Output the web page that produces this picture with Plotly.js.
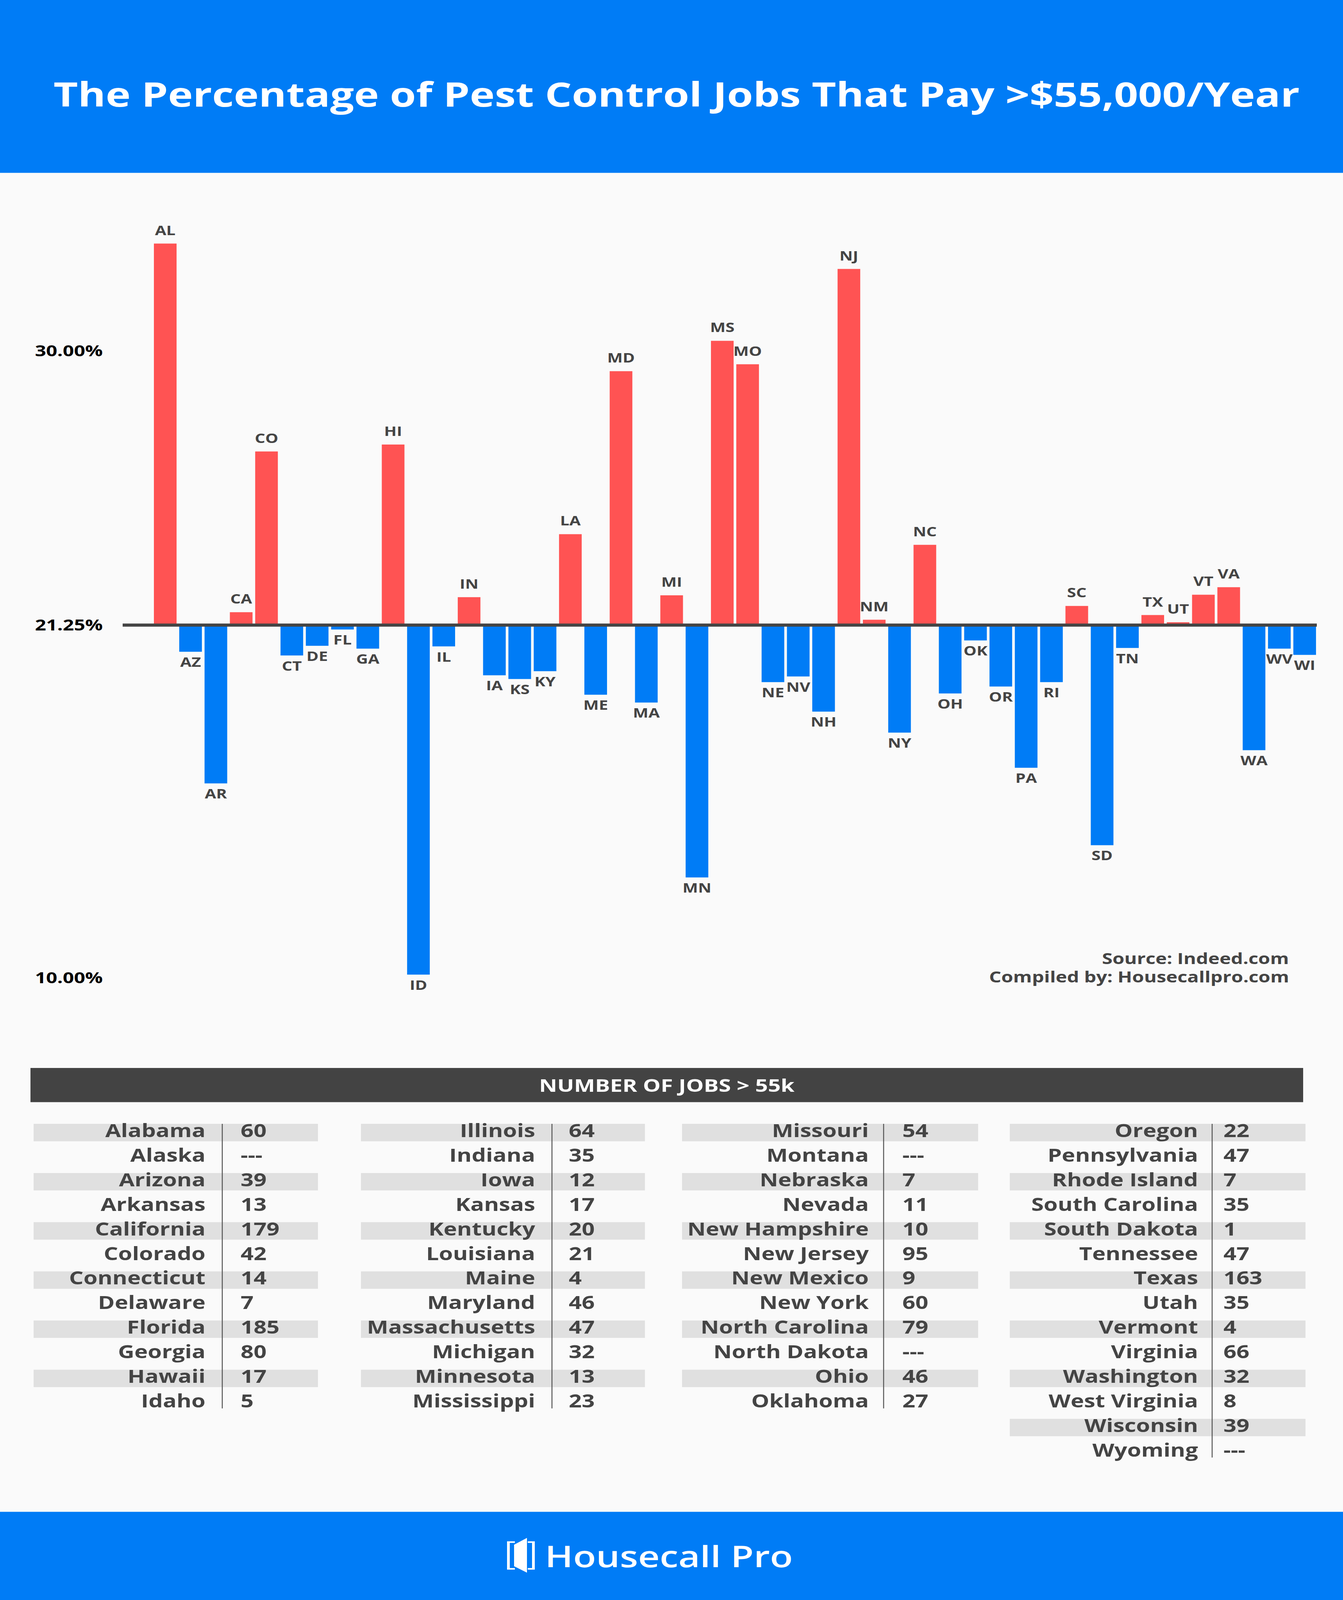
<!DOCTYPE html>
<html>
<head>
<meta charset="utf-8">
<script src="https://cdn.plot.ly/plotly-3.0.1.min.js"></script>
<style>
  html, body { margin: 0; padding: 0; background: #FAFAFA; overflow: hidden; }
  #chart { width: 3438px; height: 5155px; transform-origin: 0 0; }
</style>
</head>
<body>
<div id="chart"></div>
<script>
// ---------------- DATA ----------------
const states = ['AL','AZ','AR','CA','CO','CT','DE','FL','GA','HI','ID','IL','IN','IA','KS','KY','LA','ME','MD','MA','MI','MN','MS','MO','NE','NV','NH','NJ','NM','NY','NC','OH','OK','OR','PA','RI','SC','SD','TN','TX','UT','VT','VA','WA','WV','WI'];
const pct = [33.42,20.40,16.20,21.66,26.79,20.28,20.59,21.11,20.50,27.01,10.10,20.57,22.14,19.65,19.53,19.78,24.15,19.03,29.35,18.78,22.20,13.20,30.32,29.57,19.43,19.61,18.49,32.61,21.42,17.82,23.81,19.07,20.76,19.29,16.70,19.43,21.86,14.23,20.52,21.57,21.34,22.22,22.46,17.26,20.50,20.30];
const baseline = 21.25;
const yTickVals = [10, 21.25, 30];
const yTickText = ['10.00%', '21.25%', '30.00%'];

const tableStates = ['Alabama','Alaska','Arizona','Arkansas','California','Colorado','Connecticut','Delaware','Florida','Georgia','Hawaii','Idaho',
  'Illinois','Indiana','Iowa','Kansas','Kentucky','Louisiana','Maine','Maryland','Massachusetts','Michigan','Minnesota','Mississippi',
  'Missouri','Montana','Nebraska','Nevada','New Hampshire','New Jersey','New Mexico','New York','North Carolina','North Dakota','Ohio','Oklahoma',
  'Oregon','Pennsylvania','Rhode Island','South Carolina','South Dakota','Tennessee','Texas','Utah','Vermont','Virginia','Washington','West Virginia','Wisconsin','Wyoming'];
const tableJobs = ['60','---','39','13','179','42','14','7','185','80','17','5',
  '64','35','12','17','20','21','4','46','47','32','13','23',
  '54','---','7','11','10','95','9','60','79','---','46','27',
  '22','47','7','35','1','47','163','35','4','66','32','8','39','---'];
const tableColumnSizes = [12, 12, 12, 14];

const titleText = 'The Percentage of Pest Control Jobs That Pay >$55,000/Year';
const tableHeader = 'NUMBER OF JOBS &gt; 55k';
const sourceLines = ['Source: Indeed.com', 'Compiled by: Housecallpro.com'];
const brandText = 'Housecall Pro';

// ---------------- STYLE / LAYOUT CONSTANTS ----------------
const W = 3438, H = 5155;
const BLUE = '#007CF6', RED = '#FF5353', DARK = '#444444', BG = '#FAFAFA', STRIPE = '#E0E0E0';
const px = p => p / W;
const py = p => 1 - p / H;

const plotTop = 600, plotBottom = 3350, basePix = 2014, pxPerPct = 101;
const plotLeft = 314, plotRight = 3371, firstBarCenter = 423, barPitch = 64.82;

const rowPitch = 79.2, firstRowCenter = 3649, stripeHalf = 0.354;
const colNameRight = [526, 1370, 2224, 3067];
const colNumLeft = [616, 1456, 2310, 3132];
const colDivider = [569, 1413, 2262, 3103];
const colStripe = [[86, 814], [924, 1651], [1746, 2504], [2585, 3342]];

// fit the full-height design into the actual window (the window may be shorter than 5155)
const fitY = Math.min(1, (window.innerHeight || H) / H);
if (fitY < 1) document.getElementById('chart').style.transform = 'scale(1,' + fitY + ')';

// ---------------- TRACES ----------------
const bars = {
  type: 'bar', x: states, y: pct.map(v => v - baseline), base: baseline, width: 0.895,
  marker: { color: pct.map(v => v >= baseline ? RED : BLUE), line: { width: 0 } },
  hoverinfo: 'skip', xaxis: 'x', yaxis: 'y'
};
const barLabels = {
  type: 'scatter', mode: 'markers+text', x: states, y: pct, text: states,
  textposition: pct.map(v => v >= baseline ? 'top center' : 'bottom center'),
  textfont: { family: 'Open Sans', size: 42, color: DARK, weight: 700 },
  marker: { size: 26, color: 'rgba(0,0,0,0)' },
  cliponaxis: false, hoverinfo: 'skip', xaxis: 'x', yaxis: 'y'
};

const colIdx = [], rowIdx = [];
{
  let c = 0, r = 0;
  for (let i = 0; i < tableStates.length; i++) {
    colIdx.push(c); rowIdx.push(r);
    r++;
    if (r >= tableColumnSizes[c]) { c++; r = 0; }
  }
}
const tableFont = { family: 'Open Sans', size: 58, color: DARK, weight: 700 };
const tableNames = {
  type: 'scatter', mode: 'text', x: colIdx.map(c => colNameRight[c]), y: rowIdx,
  text: tableStates, textposition: 'middle left', textfont: tableFont, cliponaxis: false, hoverinfo: 'skip',
  xaxis: 'x2', yaxis: 'y2'
};
const tableNums = {
  type: 'scatter', mode: 'text', x: colIdx.map(c => colNumLeft[c]), y: rowIdx,
  text: tableJobs, textposition: 'middle right', textfont: tableFont, cliponaxis: false, hoverinfo: 'skip',
  xaxis: 'x2', yaxis: 'y2'
};

// ---------------- SHAPES ----------------
const shapes = [
  { type: 'rect', xref: 'paper', yref: 'paper', x0: 0, x1: 1, y0: py(557), y1: 1, fillcolor: BLUE, line: { width: 0 }, layer: 'below' },
  { type: 'rect', xref: 'paper', yref: 'paper', x0: 0, x1: 1, y0: 0, y1: py(4871), fillcolor: BLUE, line: { width: 0 }, layer: 'below' },
  { type: 'line', xref: 'x domain', yref: 'y', x0: 0, x1: 1, y0: baseline, y1: baseline, line: { color: DARK, width: 10 }, layer: 'above' },
  { type: 'rect', xref: 'paper', yref: 'paper', x0: px(78), x1: px(3336), y0: py(3551), y1: py(3441), fillcolor: '#434343', line: { width: 0 }, layer: 'below' }
];
for (let i = 0; i < tableStates.length; i++) {
  if (rowIdx[i] % 2 === 0) {
    const c = colIdx[i];
    shapes.push({ type: 'rect', xref: 'x2', yref: 'y2', x0: colStripe[c][0], x1: colStripe[c][1],
      y0: rowIdx[i] - stripeHalf, y1: rowIdx[i] + stripeHalf, fillcolor: STRIPE, line: { width: 0 }, layer: 'below' });
  }
}
for (let c = 0; c < 4; c++) {
  shapes.push({ type: 'line', xref: 'x2', yref: 'y2', x0: colDivider[c], x1: colDivider[c],
    y0: -stripeHalf, y1: tableColumnSizes[c] - 1 + 0.22, line: { color: '#555', width: 2.5 }, layer: 'above' });
}
function pathOf(pts) { return 'M ' + pts.map(p => px(p[0]) + ' ' + py(p[1])).join(' L ') + ' Z'; }
const logoPaths = [
  [[1298, 4966], [1318, 4966], [1318, 4971], [1305, 4971], [1305, 5052], [1318, 5052], [1318, 5057], [1298, 5057]],
  [[1316, 4977], [1349, 4955], [1349, 5067], [1316, 5046]],
  [[1351, 4966], [1369, 4966], [1369, 5057], [1351, 5057], [1351, 5052], [1362, 5052], [1362, 4971], [1351, 4971]]
];
logoPaths.forEach(p => shapes.push({ type: 'path', xref: 'paper', yref: 'paper', path: pathOf(p), fillcolor: '#FFFFFF', line: { width: 0 }, layer: 'above' }));

// ---------------- ANNOTATIONS ----------------
const annotations = [
  { xref: 'paper', yref: 'paper', x: px(1707), y: py(3496), xanchor: 'center', yanchor: 'middle', showarrow: false,
    text: tableHeader, font: { family: 'Open Sans', size: 57, color: '#FFFFFF', weight: 700 } },
  { xref: 'paper', yref: 'paper', x: px(3302), y: py(3087), xanchor: 'right', yanchor: 'middle', showarrow: false,
    text: sourceLines[0], font: { family: 'Open Sans', size: 49, color: DARK, weight: 700 } },
  { xref: 'paper', yref: 'paper', x: px(3302), y: py(3146), xanchor: 'right', yanchor: 'middle', showarrow: false,
    text: sourceLines[1], font: { family: 'Open Sans', size: 49, color: DARK, weight: 700 } },
  { xref: 'paper', yref: 'paper', x: px(1712), y: py(5011), xanchor: 'center', yanchor: 'middle', showarrow: false,
    text: brandText, font: { family: 'Open Sans', size: 96, color: '#FFFFFF', weight: 600 } }
];

const layout = {
  width: W, height: H,
  margin: { l: 0, r: 0, t: 0, b: 0, pad: 0 },
  paper_bgcolor: BG, plot_bgcolor: 'rgba(0,0,0,0)', showlegend: false,
  title: { text: titleText, x: px(1732), xanchor: 'center', xref: 'paper', y: py(306), yanchor: 'middle', yref: 'container',
    font: { family: 'Open Sans', size: 108, color: '#FFFFFF', weight: 700 } },
  xaxis: {
    type: 'category', domain: [px(plotLeft), px(plotRight)],
    range: [-(firstBarCenter - plotLeft) / barPitch, (states.length - 1) + (plotRight - (firstBarCenter + barPitch * (states.length - 1))) / barPitch],
    showticklabels: false, showgrid: false, zeroline: false, showline: false, ticks: '', fixedrange: true
  },
  yaxis: {
    domain: [py(plotBottom), py(plotTop)],
    range: [baseline - (plotBottom - basePix) / pxPerPct, baseline + (basePix - plotTop) / pxPerPct],
    tickmode: 'array', tickvals: yTickVals, ticktext: yTickText,
    tickfont: { family: 'Open Sans', size: 50, color: '#000000', weight: 700 },
    ticklabelstandoff: 50,
    showgrid: false, zeroline: false, showline: false, ticks: '', automargin: false, fixedrange: true
  },
  xaxis2: { domain: [0, 1], range: [0, W], visible: false, anchor: 'y2', fixedrange: true },
  yaxis2: { domain: [0, 1], range: [(H - firstRowCenter) / rowPitch, -firstRowCenter / rowPitch], visible: false, anchor: 'x2', fixedrange: true },
  shapes: shapes, annotations: annotations
};

Plotly.newPlot('chart', [bars, barLabels, tableNames, tableNums], layout, { displayModeBar: false, staticPlot: true });
</script>
</body>
</html>
